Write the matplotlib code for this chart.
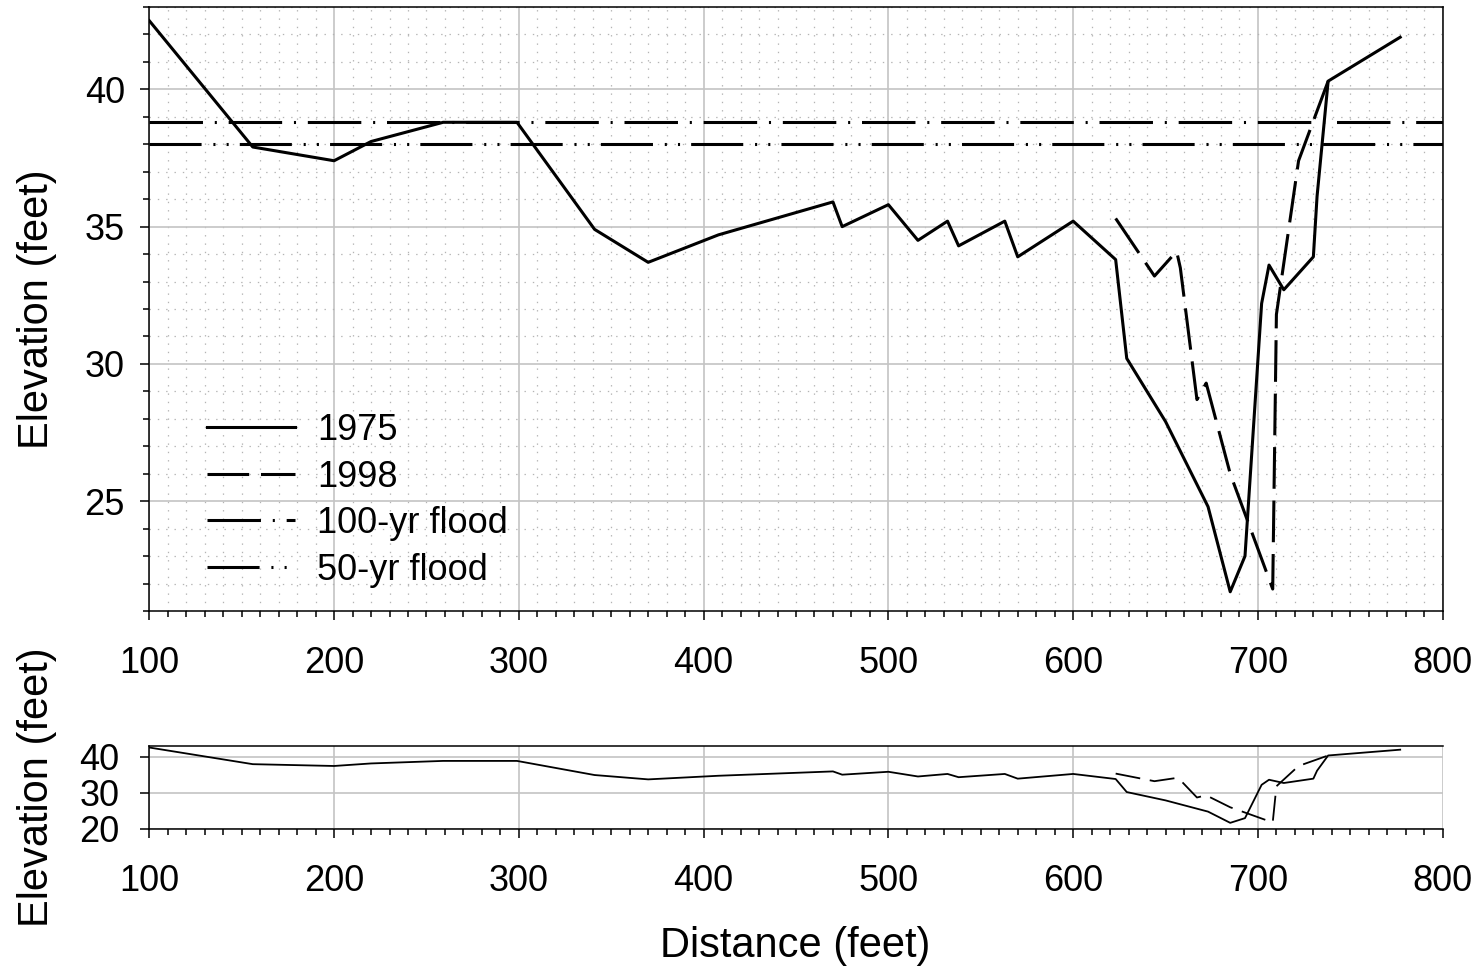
import matplotlib
matplotlib.use("Agg")
import matplotlib.pyplot as plt
from matplotlib.ticker import MultipleLocator

plt.rcParams['font.family'] = ['Liberation Sans', 'DejaVu Sans']
plt.rcParams['lines.scale_dashes'] = False

# surveyed cross sections
dist_1975 = [100, 156, 200, 220, 259, 299, 341, 370, 408, 470, 475, 500, 516,
             532, 538, 563, 570, 600, 623, 629, 650, 673, 685, 693, 702, 706,
             714, 730, 732, 738, 777]
elev_1975 = [42.5, 37.9, 37.4, 38.1, 38.8, 38.8, 34.9, 33.7, 34.7, 35.9, 35.0,
             35.8, 34.5, 35.2, 34.3, 35.2, 33.9, 35.2, 33.8, 30.2, 27.9, 24.8,
             21.7, 23.0, 32.2, 33.6, 32.7, 33.9, 36.1, 40.3, 41.9]

dist_1998 = [623, 644, 656, 658, 667, 672, 685, 708, 710, 722, 738]
elev_1998 = [35.3, 33.2, 34.1, 33.5, 28.7, 29.3, 26.0, 21.8, 31.8, 37.4, 40.3]

flood_100yr = 38.8
flood_50yr = 38.0

dash_1998 = (0, (30, 8.5))
dash_100 = (0, (38.5, 8.5, 1.5, 8.5))
dash_50 = (0, (37.5, 8.5, 1.5, 8, 1.5, 8))

W, H = 1479, 969
fig = plt.figure(figsize=(W / 100, H / 100), dpi=100)

# main panel (pixel box -> figure fractions)
ax = fig.add_axes([149.3 / W, 1 - 611 / H, (1442.7 - 149.3) / W, (611 - 7) / H])
ax.plot(dist_1975, elev_1975, color='black', lw=2.2, label='1975')
ax.plot(dist_1998, elev_1998, color='black', lw=2.2, linestyle=dash_1998, label='1998')
ax.axhline(flood_100yr, color='black', lw=2.2, linestyle=dash_100, label='100-yr flood')
ax.axhline(flood_50yr, color='black', lw=2.2, linestyle=dash_50, label='50-yr flood')

ax.set_xlim(100, 800)
ax.set_ylim(21, 43)
ax.set_xticks(range(100, 801, 100))
ax.set_yticks([25, 30, 35, 40])
ax.xaxis.set_minor_locator(MultipleLocator(10))
ax.yaxis.set_minor_locator(MultipleLocator(1))
ax.grid(which='major', color='#c4c4c4', lw=1.2, linestyle='-')
ax.grid(which='minor', color='#b4b4b4', lw=0.9, linestyle=(0, (1, 5)))
ax.set_axisbelow(True)
ax.tick_params(axis='x', which='major', length=6.5, width=1.1, labelsize=26, pad=19)
ax.tick_params(axis='x', which='minor', length=4, width=1.1)
ax.tick_params(axis='y', which='major', length=6.5, width=1.1, labelsize=26, pad=11)
ax.tick_params(axis='y', which='minor', length=4.5, width=1.1)
for sp in ax.spines.values():
    sp.set_linewidth(1.1)

leg = ax.legend(loc='upper left', bbox_to_anchor=((207 - 149.3) / 1293.4, (611 - 413) / 604),
                frameon=False, fontsize=26, handlelength=2.44, handletextpad=0.61,
                labelspacing=0.32, borderpad=0, borderaxespad=0)

# overview panel
ax2 = fig.add_axes([149.3 / W, 1 - 829 / H, (1442.7 - 149.3) / W, (829 - 745.7) / H])
ax2.plot(dist_1975, elev_1975, color='black', lw=1.3)
ax2.plot(dist_1998, elev_1998, color='black', lw=1.3, linestyle=(0, (18, 7)))
ax2.set_xlim(100, 800)
ax2.set_ylim(20, 43)
ax2.set_xticks(range(100, 801, 100))
ax2.set_yticks([20, 30, 40])
ax2.xaxis.set_minor_locator(MultipleLocator(10))
ax2.grid(which='major', color='#c4c4c4', lw=1.2)
ax2.set_axisbelow(True)
ax2.tick_params(axis='x', which='major', length=6.5, width=1.1, labelsize=26, pad=19)
ax2.tick_params(axis='x', which='minor', length=4, width=1.1)
ax2.tick_params(axis='y', which='major', length=6.5, width=1.1, labelsize=26, pad=15)
ax2.spines['right'].set_visible(False)
for sp in ax2.spines.values():
    sp.set_linewidth(1.1)

fig.text(37 / W, 1 - 309 / H, 'Elevation (feet)', rotation=90, ha='center', va='center', fontsize=30)
fig.text(37 / W, 1 - 787 / H, 'Elevation (feet)', rotation=90, ha='center', va='center', fontsize=30)
fig.text(795 / W, 1 - 946 / H, 'Distance (feet)', ha='center', va='center', fontsize=30)

fig.savefig('out.png', dpi=100)
